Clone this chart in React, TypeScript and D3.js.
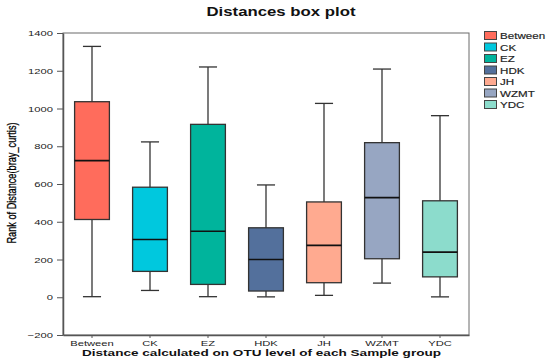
import React, { useEffect, useRef } from 'react';
import * as d3 from 'd3';

const groups = ['Between', 'CK', 'EZ', 'HDK', 'JH', 'WZMT', 'YDC'];
const whiskerLow = [3, 36, 3, 2, 10, 75, 2];
const q1 = [412, 137, 68, 33, 77, 204, 108];
const median = [724, 306, 350, 200, 275, 528, 239];
const q3 = [1036, 583, 916, 368, 505, 819, 511];
const whiskerHigh = [1329, 823, 1220, 595, 1027, 1209, 962];
const colors = ['#FF6C5C', '#00C8DE', '#00B49C', '#53709C', '#FFAA90', '#97A6C2', '#8CDCCC'];
const yTicks = [-200, 0, 200, 400, 600, 800, 1000, 1200, 1400];

// the reference's text is stretched sideways
const SX = 1.4;
const FONT = 'Liberation Sans, Arial, sans-serif';

const App = () => {
  const svgRef = useRef<SVGSVGElement>(null);

  useEffect(() => {
    const svg = d3.select(svgRef.current);
    svg.selectAll('*').remove();

    const margin = { top: 33, right: 81, bottom: 27, left: 63 };
    const width = 550 - margin.left - margin.right;
    const height = 362 - margin.top - margin.bottom;

    const g = svg.append('g').attr('transform', `translate(${margin.left},${margin.top})`);

    const x = d3.scaleBand().domain(groups).range([0, width]).paddingInner(0.4).paddingOuter(0.2);
    const y = d3.scaleLinear().domain([-200, 1400]).range([height, 0]);

    // title
    svg.append('text')
      .attr('transform', `translate(281,16) scale(${SX},1)`)
      .attr('text-anchor', 'middle')
      .style('font-family', FONT)
      .style('font-weight', 'bold')
      .style('font-size', '12px')
      .attr('fill', '#111')
      .text('Distances box plot');

    // plot frame
    g.append('rect')
      .attr('width', width)
      .attr('height', height)
      .attr('fill', 'none')
      .attr('stroke', '#6a6a6a')
      .attr('stroke-width', 1);

    // y axis
    const yAxis = g.append('g')
      .call(d3.axisLeft(y).tickValues(yTicks).tickSize(6).tickSizeOuter(0)
        .tickFormat(d => d3.format('d')(d as number).replace('-', '\u2212')));
    yAxis.select('.domain').attr('stroke', '#555').attr('stroke-width', 1.5);
    yAxis.selectAll('line').attr('stroke', '#555');
    yAxis.selectAll('text')
      .attr('x', -10 / SX)
      .attr('transform', `scale(${SX},1)`)
      .attr('fill', '#222')
      .style('font-family', FONT)
      .style('font-size', '8px');

    // x axis
    const xAxis = g.append('g')
      .attr('transform', `translate(0,${height})`)
      .call(d3.axisBottom(x).tickSize(3).tickSizeOuter(0).tickPadding(2));
    xAxis.select('.domain').attr('stroke', '#555').attr('stroke-width', 1.5);
    xAxis.selectAll('line').attr('stroke', '#555');
    xAxis.selectAll('text')
      .attr('transform', `scale(${SX},1)`)
      .attr('fill', '#222')
      .style('font-family', FONT)
      .style('font-size', '8px');

    // axis labels
    svg.append('text')
      .attr('transform', `translate(16,183) scale(${SX},1) rotate(-90)`)
      .attr('text-anchor', 'middle')
      .style('font-family', FONT)
      .style('font-size', '9.2px')
      .attr('fill', '#000')
      .attr('stroke', '#000')
      .attr('stroke-width', 0.2)
      .text('Rank of Distance(bray_curtis)');

    svg.append('text')
      .attr('transform', `translate(261.5,356) scale(${SX},1)`)
      .attr('text-anchor', 'middle')
      .style('font-family', FONT)
      .style('font-weight', 'bold')
      .style('font-size', '9.7px')
      .attr('fill', '#111')
      .text('Distance calculated on OTU level of each Sample group');

    // boxes
    const bw = x.bandwidth();
    const capW = bw * 0.52;
    groups.forEach((grp, i) => {
      const cx = (x(grp) as number) + bw / 2;
      const box = g.append('g');
      box.append('line')
        .attr('x1', cx).attr('x2', cx)
        .attr('y1', y(whiskerLow[i])).attr('y2', y(whiskerHigh[i]))
        .attr('stroke', '#333').attr('stroke-width', 1.3);
      [whiskerLow[i], whiskerHigh[i]].forEach(v => {
        box.append('line')
          .attr('x1', cx - capW / 2).attr('x2', cx + capW / 2)
          .attr('y1', y(v)).attr('y2', y(v))
          .attr('stroke', '#333').attr('stroke-width', 1.3);
      });
      box.append('rect')
        .attr('x', x(grp) as number)
        .attr('y', y(q3[i]))
        .attr('width', bw)
        .attr('height', y(q1[i]) - y(q3[i]))
        .attr('fill', colors[i])
        .attr('stroke', '#333')
        .attr('stroke-width', 1.3);
      box.append('line')
        .attr('x1', x(grp) as number).attr('x2', (x(grp) as number) + bw)
        .attr('y1', y(median[i])).attr('y2', y(median[i]))
        .attr('stroke', '#111').attr('stroke-width', 1.6);
    });

    // legend
    const legend = svg.append('g').attr('transform', 'translate(484,31)');
    groups.forEach((grp, i) => {
      legend.append('rect')
        .attr('x', 0.5)
        .attr('y', i * 11.5 + 0.5)
        .attr('width', 12)
        .attr('height', 8)
        .attr('fill', colors[i])
        .attr('stroke', '#444')
        .attr('stroke-width', 1);
      legend.append('text')
        .attr('transform', `translate(16,${i * 11.5 + 8.3}) scale(${SX},1)`)
        .style('font-family', FONT)
        .style('font-size', '8.3px')
        .attr('fill', '#222')
        .attr('stroke', '#222')
        .attr('stroke-width', 0.15)
        .text(grp);
    });
  }, []);

  return (
    <svg ref={svgRef} width={550} height={362}
      style={{ position: 'absolute', left: 0, top: 0, background: '#fff' }} />
  );
};

export default App;
